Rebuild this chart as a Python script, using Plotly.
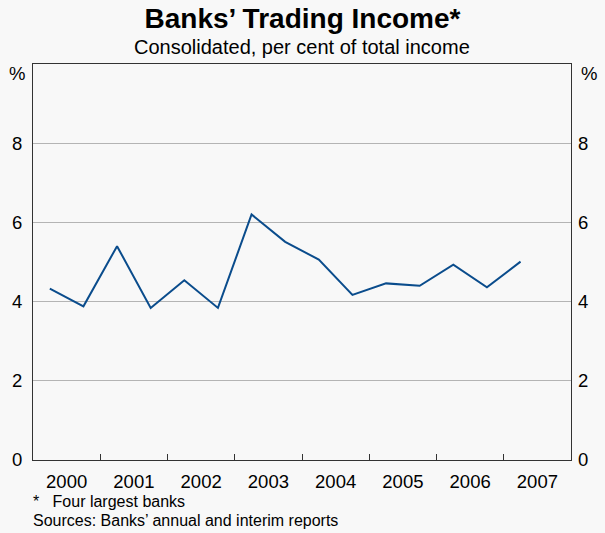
import plotly.graph_objects as go

# Semi-annual observations (fraction of year positions)
periods = [2000.25, 2000.75, 2001.25, 2001.75, 2002.25, 2002.75, 2003.25, 2003.75,
           2004.25, 2004.75, 2005.25, 2005.75, 2006.25, 2006.75, 2007.25]
trading_income = [4.33, 3.88, 5.40, 3.84, 4.54, 3.84, 6.20, 5.51,
                  5.06, 4.17, 4.46, 4.40, 4.93, 4.36, 5.01]
year_labels = ["2000", "2001", "2002", "2003", "2004", "2005", "2006", "2007"]
year_label_pos = [2000.5, 2001.5, 2002.5, 2003.5, 2004.5, 2005.5, 2006.5, 2007.5]
year_bounds = [2001, 2002, 2003, 2004, 2005, 2006, 2007]
y_ticks = [0, 2, 4, 6, 8]

FONT = "Arial, Liberation Sans, sans-serif"
BG = "#f8f8f8"
PH = 396  # plot height in px

fig = go.Figure()
fig.add_trace(go.Scatter(x=periods, y=trading_income, mode="lines",
                         line=dict(color="#0a4c8c", width=2), showlegend=False,
                         hoverinfo="x+y"))
fig.add_trace(go.Scatter(x=periods, y=trading_income, mode="lines", yaxis="y2",
                         line=dict(color="rgba(0,0,0,0)", width=0), showlegend=False,
                         hoverinfo="skip"))

fig.update_layout(
    width=605, height=533,
    margin=dict(l=33, r=34, t=64, b=73),
    paper_bgcolor=BG, plot_bgcolor=BG,
    font=dict(family=FONT, color="#000000", size=18),
    title=dict(text="<b>Banks’ Trading Income*</b>", x=0.5, xanchor="center",
               y=1 - 18 / 533, yanchor="middle", font=dict(size=28, family=FONT)),
    xaxis=dict(range=[2000, 2008], tickvals=year_label_pos, ticktext=year_labels,
               ticks="", showgrid=False, zeroline=False,
               showline=True, linecolor="#333333", linewidth=1, mirror=True,
               tickfont=dict(size=18.5), ticklabelstandoff=5,
               minor=dict(tickvals=year_bounds, ticks="inside", ticklen=6,
                          tickcolor="#333333", showgrid=False)),
    yaxis=dict(range=[0, 10], tickvals=y_ticks, ticks="", showgrid=True,
               gridcolor="#b4b4b4", gridwidth=1, zeroline=False,
               showline=True, linecolor="#333333", linewidth=1, mirror=True,
               tickfont=dict(size=18.5), ticklabelstandoff=6),
    yaxis2=dict(range=[0, 10], tickvals=y_ticks, overlaying="y", side="right",
                ticks="", showgrid=False, zeroline=False, showline=False,
                tickfont=dict(size=18.5), ticklabelstandoff=6),
)

fig.add_annotation(text="Consolidated, per cent of total income", xref="paper", yref="paper",
                   x=0.5, y=1 + (64 - 47) / PH, xanchor="center", yanchor="middle",
                   showarrow=False, font=dict(size=20))
fig.add_annotation(text="%", xref="paper", yref="paper", x=(17 - 33) / 538, y=1 - 9 / PH,
                   xanchor="center", yanchor="middle", showarrow=False, font=dict(size=18.5))
fig.add_annotation(text="%", xref="paper", yref="paper", x=(588.5 - 33) / 538, y=1 - 9 / PH,
                   xanchor="center", yanchor="middle", showarrow=False, font=dict(size=18.5))
fig.add_annotation(text="*   Four largest banks", xref="paper", yref="paper",
                   x=-2 / 538, y=-(502 - 460) / PH, xanchor="left", yanchor="middle",
                   showarrow=False, font=dict(size=16))
fig.add_annotation(text="Sources: Banks’ annual and interim reports", xref="paper", yref="paper",
                   x=-2 / 538, y=-(520 - 460) / PH, xanchor="left", yanchor="middle",
                   showarrow=False, font=dict(size=16))

fig.write_html("out.html", config={"displayModeBar": False},
               post_script="document.body.style.margin='0';document.body.style.background='#f8f8f8';")
